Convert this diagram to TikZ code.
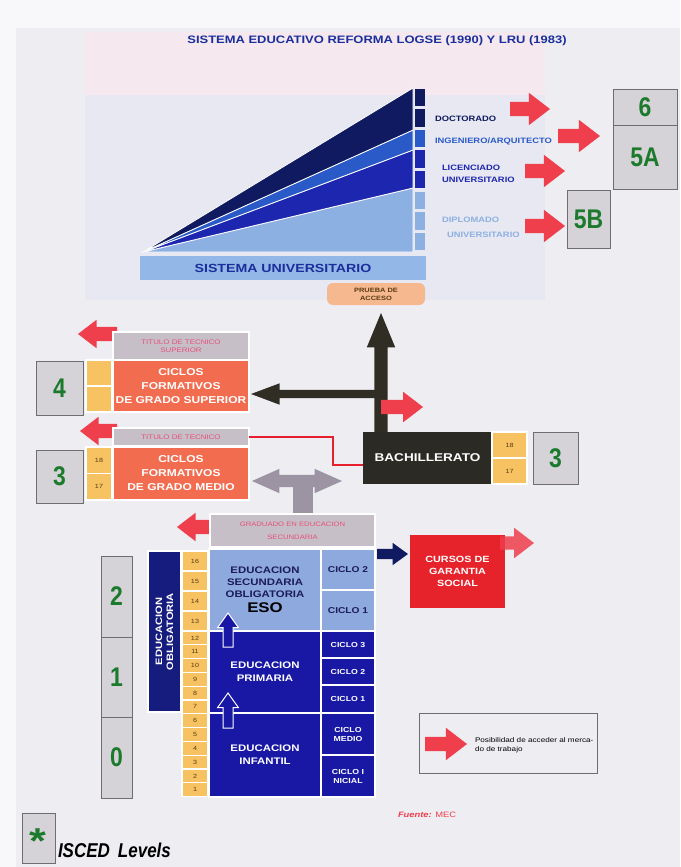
\documentclass[tikz,border=0pt]{standalone}
\usepackage{fontspec}
\setmainfont{Liberation Sans}[FakeStretch=1.2]
\newfontfamily\narrowf{Liberation Sans}[FakeStretch=0.85]
\usetikzlibrary{shapes.arrows,calc}
\newcommand\fsz[2]{\fontsize{#1}{#2}\selectfont}
\definecolor{pagebg}{HTML}{EEEDF2}
\definecolor{pinkbg}{HTML}{F5E8EE}
\definecolor{lavbg}{HTML}{E7E8F1}
\definecolor{titleblue}{HTML}{1B2F9C}
\definecolor{wdark}{HTML}{0F1A60}
\definecolor{wmid}{HTML}{2A5AC8}
\definecolor{wblue}{HTML}{1C26AE}
\definecolor{wlight}{HTML}{8DB0E2}
\definecolor{bandblue}{HTML}{93B7E6}
\definecolor{arrred}{HTML}{EF3E4C}
\definecolor{linered}{HTML}{E8202E}
\definecolor{prueba}{HTML}{F6B88E}
\definecolor{darkarr}{HTML}{2F2D24}
\definecolor{bachfill}{HTML}{2B2A24}
\definecolor{ageyel}{HTML}{F6C262}
\definecolor{agetxt}{HTML}{5B3B12}
\definecolor{cicorange}{HTML}{F26C50}
\definecolor{titgray}{HTML}{C7BFC7}
\definecolor{titpink}{HTML}{E6507A}
\definecolor{iscgray}{HTML}{D5D2D8}
\definecolor{iscline}{HTML}{6E6E72}
\definecolor{iscgreen}{HTML}{1C7A2C}
\definecolor{grayarr}{HTML}{9D94A3}
\definecolor{esoblue}{HTML}{8EA9DE}
\definecolor{esotext}{HTML}{1C1C5A}
\definecolor{navy}{HTML}{1818A4}
\definecolor{navybar}{HTML}{151C7E}
\definecolor{cursred}{HTML}{E6232B}
\begin{document}
\begin{tikzpicture}[x=1pt,y=-1pt,
  every node/.style={inner sep=0pt, outer sep=0pt},
  blk/.style={draw=white, line width=1.2pt, anchor=north west, align=center, font=\bfseries},
  isced/.style={draw=iscline, fill=iscgray, line width=0.8pt, anchor=north west, text=iscgreen, font=\narrowf\bfseries\fsz{27}{27}},
  age/.style={blk, fill=ageyel, text=agetxt, font=\fsz{6}{6}, minimum width=26pt},
  titbox/.style={blk, fill=titgray, text=titpink, font=\fsz{6.6}{8}},
  cicbox/.style={blk, fill=cicorange, text=white, font=\bfseries\fsz{10}{14}},
  redarr/.style={single arrow, fill=arrred, minimum width=32pt, single arrow head extend=9pt, inner sep=7pt, single arrow tip angle=75, anchor=tail},
  hollow/.style={single arrow, fill=navy, draw=white, line width=1pt, minimum width=20pt, single arrow head extend=5.5pt, inner sep=4.5pt, single arrow tip angle=71, shape border rotate=90, anchor=tail},
  sq/.style={minimum width=10pt, anchor=north west},
  wlab/.style={anchor=west, font=\bfseries\fsz{7.8}{8}}
]
\useasboundingbox (0,0) rectangle (680,867);
% background
\fill[pagebg] (0,0) rectangle (680,867);
\fill[white!60!pagebg] (0,0) rectangle (680,28);
\fill[white!60!pagebg] (0,0) rectangle (16,867);
\fill[pinkbg] (85,32) rectangle (545,95);
\fill[lavbg] (85,95) rectangle (545,300);

% title
\node[text=titleblue, font=\bfseries\fsz{10.8}{12}] (title) at (377,41) {SISTEMA EDUCATIVO REFORMA LOGSE (1990) Y LRU (1983)};

% university wedge
\filldraw[fill=wlight, draw=white, line width=0.8pt] (143,252) -- (413,188) -- (413,252) -- cycle;
\filldraw[fill=wblue, draw=white, line width=0.8pt] (143,252) -- (413,150) -- (413,188) -- cycle;
\filldraw[fill=wmid, draw=white, line width=0.8pt] (143,252) -- (413,130) -- (413,150) -- cycle;
\filldraw[fill=wdark, draw=white, line width=0.8pt] (143,252) -- (413,88) -- (413,130) -- cycle;
\node[sq, fill=wdark, minimum height=17pt] (s1) at (415,89) {};
\node[sq, fill=wdark, minimum height=18pt] (s2) at (415,109) {};
\node[sq, fill=wmid, minimum height=17pt] (s3) at (415,129.5) {};
\node[sq, fill=wblue, minimum height=18pt] (s4) at (415,150) {};
\node[sq, fill=wblue, minimum height=17pt] (s5) at (415,171) {};
\node[sq, fill=wlight, minimum height=17pt] (s6) at (415,191.5) {};
\node[sq, fill=wlight, minimum height=18pt] (s7) at (415,212) {};
\node[sq, fill=wlight, minimum height=17pt] (s8) at (415,233) {};
\node[fill=bandblue, anchor=north west, minimum width=286pt, minimum height=24pt, text=titleblue, font=\bfseries\fsz{11.8}{14}] (univ) at (140,256) {SISTEMA UNIVERSITARIO};

% university labels
\node[wlab, text=wdark] (doct) at (435,119) {DOCTORADO};
\node[wlab, text=wmid] (ing) at (435,141) {INGENIERO/ARQUITECTO};
\node[wlab, align=left, text=wblue, font=\bfseries\fsz{7.8}{11.5}] (lic) at (442,174) {LICENCIADO\\UNIVERSITARIO};
\node[wlab, text=wlight] (dip1) at (442,220) {DIPLOMADO};
\node[wlab, text=wlight] (dip2) at (447,235) {UNIVERSITARIO};

% red arrows top
\node[redarr, minimum height=40pt] (ra1) at (510,109) {};
\node[redarr, minimum height=42pt] (ra2) at (558,136) {};
\node[redarr, minimum height=40pt] (ra3) at (525,171) {};
\node[redarr, minimum height=40pt] (ra4) at (525,226) {};

% ISCED top
\node[isced, minimum width=64pt, minimum height=36pt] (i6) at (613,89) {6};
\node[isced, minimum width=64pt, minimum height=64pt] (i5a) at (613,125) {5A};
\node[isced, minimum width=43pt, minimum height=58pt] (i5b) at (567,190) {5B};

% prueba de acceso
\node[fill=prueba, rounded corners=6pt, anchor=north west, minimum width=98pt, minimum height=22pt, align=center, text=agetxt, font=\bfseries\fsz{6.2}{8}] (prueba) at (327,283) {PRUEBA DE\\ACCESO};

% dark arrows
\node[single arrow, fill=darkarr, minimum width=21pt, inner sep=4pt, single arrow head extend=6.5pt, single arrow tip angle=41, minimum height=133pt, shape border rotate=180, anchor=tail] (leftar) at (384,394) {};
\node[single arrow, fill=darkarr, minimum width=28pt, inner sep=6.5pt, single arrow head extend=7.5pt, single arrow tip angle=45, minimum height=119pt, shape border rotate=90, anchor=tail] (upar) at (381,432) {};
\node[redarr, minimum height=42pt, minimum width=30pt, single arrow head extend=8pt] (rbach) at (381,407) {};

% ciclos superior
\node[redarr, shape border rotate=180, minimum height=39pt, minimum width=28pt, single arrow head extend=7pt] (rsup) at (117,334) {};
\node[titbox, minimum width=136pt, minimum height=28pt] (titsup) at (113,332) {TITULO DE TECNICO\\SUPERIOR};
\node[cicbox, minimum width=136pt, minimum height=52pt] (cicsup) at (113,360) {CICLOS\\FORMATIVOS\\DE GRADO SUPERIOR};
\node[age, minimum height=26pt] (asup1) at (86,360) {};
\node[age, minimum height=26pt] (asup2) at (86,386) {};
\node[isced, minimum width=47pt, minimum height=54pt] (i4) at (36,361) {4};

% ciclos medio
\node[redarr, shape border rotate=180, minimum height=37pt, minimum width=28pt, single arrow head extend=7pt] (rmed) at (117,431) {};
\node[titbox, minimum width=136pt, minimum height=18pt] (titmed) at (113,428) {TITULO DE TECNICO};
\node[cicbox, minimum width=136pt, minimum height=53pt] (cicmed) at (113,447) {CICLOS\\FORMATIVOS\\DE GRADO MEDIO};
\node[age, minimum height=26.5pt] (amed18) at (86,447) {18};
\node[age, minimum height=26.5pt] (amed17) at (86,473.5) {17};
\node[isced, minimum width=47pt, minimum height=53pt] (i3a) at (36,450) {3};

% bachillerato
\node[blk, draw=none, fill=bachfill, text=white, minimum width=129pt, minimum height=52pt, font=\bfseries\fsz{11.3}{12}] (bach) at (363,432) {BACHILLERATO};
\node[age, minimum width=35pt, minimum height=26pt] (ab18) at (492,432) {18};
\node[age, minimum width=35pt, minimum height=26pt] (ab17) at (492,458) {17};
\node[isced, minimum width=45pt, minimum height=52pt] (i3b) at (533,432) {3};
\draw[draw=linered, line width=1.3pt] (titmed.east) -- ($(titmed.east)+(84,0)$) |- ([yshift=19pt]bach.south west);

% gray T arrow
\node[fill=grayarr, anchor=north west, minimum width=20pt, minimum height=35pt] (tstem) at (293,481) {};
\node[double arrow, fill=grayarr, minimum width=24pt, inner sep=6pt, double arrow head extend=6pt, double arrow tip angle=48, minimum height=90pt] (tarr) at (297,481) {};

% graduado
\node[redarr, shape border rotate=180, minimum height=39pt, minimum width=28pt, single arrow head extend=7pt] (rgrad) at (216,527) {};
\node[titbox, minimum width=165pt, minimum height=33pt, font=\fsz{6.4}{13}] (grad) at (210,514) {GRADUADO EN EDUCACION\\SECUNDARIA};

% ESO
\node[blk, fill=esoblue, text=esotext, minimum width=112pt, minimum height=82pt, font=\bfseries\fsz{9.5}{12}] (eso) at (209,549) {EDUCACION\\SECUNDARIA\\OBLIGATORIA\\[3pt]{\fsz{14}{14}\color{black}ESO}};
\node[blk, fill=esoblue, text=esotext, minimum width=54pt, minimum height=41pt, font=\bfseries\fsz{8.5}{9}] (eso2) at (321,549) {CICLO 2};
\node[blk, fill=esoblue, text=esotext, minimum width=54pt, minimum height=41pt, font=\bfseries\fsz{8.5}{9}] (eso1) at (321,590) {CICLO 1};

% primaria
\node[blk, fill=navy, text=white, minimum width=112pt, minimum height=82pt, font=\bfseries\fsz{9.5}{13}] (prim) at (209,631) {EDUCACION\\PRIMARIA};
\node[blk, fill=navy, text=white, minimum width=54pt, minimum height=27pt, font=\bfseries\fsz{7.3}{8}] (p3) at (321,631) {CICLO 3};
\node[blk, fill=navy, text=white, minimum width=54pt, minimum height=27pt, font=\bfseries\fsz{7.3}{8}] (p2) at (321,658) {CICLO 2};
\node[blk, fill=navy, text=white, minimum width=54pt, minimum height=28pt, font=\bfseries\fsz{7.3}{8}] (p1) at (321,685) {CICLO 1};

% infantil
\node[blk, fill=navy, text=white, minimum width=112pt, minimum height=84pt, font=\bfseries\fsz{9.5}{13}] (inf) at (209,713) {EDUCACION\\INFANTIL};
\node[blk, fill=navy, text=white, minimum width=54pt, minimum height=42pt, font=\bfseries\fsz{7.3}{9}] (im) at (321,713) {CICLO\\MEDIO};
\node[blk, fill=navy, text=white, minimum width=54pt, minimum height=42pt, font=\bfseries\fsz{7.3}{9}] (ii) at (321,755) {CICLO I\\NICIAL};

% hollow arrows
\node[hollow, minimum height=34pt] (h1) at (228,647) {};
\node[hollow, minimum height=35pt] (h2) at (228,728) {};

% educacion obligatoria
\node[blk, fill=navybar, minimum width=33pt, minimum height=161pt] (oblig) at (148,551) {};
\node[rotate=90, text=white, align=center, font=\bfseries\fsz{9.3}{11}] (obligtxt) at (oblig.center) {EDUCACION\\OBLIGATORIA};

% ages
\foreach \a in {16,15,14,13} {
  \node[age, minimum height=20pt] (age\a) at (182,{551+(16-\a)*20}) {\a};
}
\foreach \a in {12,11,...,1} {
  \node[age, minimum height=13.8pt] (age\a) at (182,{631+(12-\a)*13.8}) {\a};
}

% ISCED 2 1 0
\node[isced, minimum width=31pt, minimum height=81pt] (i2) at (101,556) {2};
\node[isced, minimum width=31pt, minimum height=80pt] (i1) at (101,637) {1};
\node[isced, minimum width=31pt, minimum height=81pt] (i0) at (101,717) {0};

% garantia social
\node[single arrow, fill=wdark, minimum width=22pt, inner sep=5pt, single arrow head extend=6pt, single arrow tip angle=72, minimum height=31pt, anchor=tail] (narr) at (377,554) {};
\node[blk, draw=none, fill=cursred, text=white, minimum width=95pt, minimum height=73pt, font=\bfseries\fsz{9}{12}] (curs) at (410,535) {CURSOS DE\\GARANTIA\\SOCIAL};
\node[redarr, opacity=0.85, minimum height=34pt, minimum width=30pt, inner sep=6.5pt, single arrow head extend=8.5pt] (rcurs) at (500,543) {};

% legend
\node[draw=iscline, line width=0.8pt, anchor=north west, minimum width=178pt, minimum height=60pt] (leg) at (419,713) {};
\node[redarr, minimum height=42pt] (rleg) at (425,744) {};
\node[anchor=west, align=left, font=\fsz{6.8}{9.5}] (legtxt) at (475,745) {Posibilidad de acceder al merca-\\do de trabajo};

% fuente
\node[anchor=west, text=arrred, font=\fsz{7.8}{8}] (fuente) at (398,815) {\textbf{\textit{Fuente:}} MEC};

% ISCED key
\node[isced, minimum width=33pt, minimum height=50pt] (key) at (22,813) {};
\node[text=iscgreen, font=\bfseries\fsz{36}{36}] (star) at (38,841) {*};
\node[anchor=west, font=\narrowf\bfseries\itshape\fsz{20}{22}] (iscedl) at (58,850) {ISCED\, Levels};
\end{tikzpicture}
\end{document}
